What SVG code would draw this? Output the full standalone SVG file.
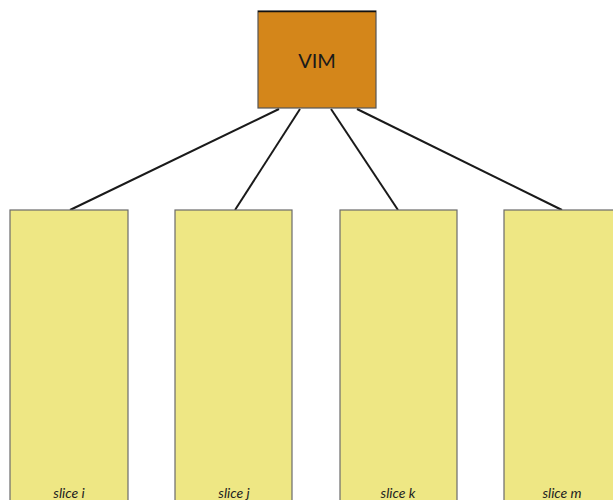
<svg xmlns="http://www.w3.org/2000/svg" width="613" height="500" viewBox="0 0 613 500">
<style>
.slice{fill:#EEE784;stroke:#6b6b6b;stroke-width:1.2}
.lbl{font-family:Lato,"Liberation Sans",sans-serif;font-style:italic;font-size:14px;fill:#222;text-anchor:middle}
.conn{stroke:#1a1a1a;stroke-width:2;fill:none}
</style>
<rect width="613" height="500" fill="#fff"/>
<g id="connectors">
<line class="conn" x1="279" y1="109" x2="70" y2="210"/>
<line class="conn" x1="300" y1="109" x2="235" y2="210"/>
<line class="conn" x1="331" y1="109" x2="398" y2="210"/>
<line class="conn" x1="357" y1="109" x2="562" y2="210"/>
</g>
<g id="vim">
<rect x="258" y="11" width="118" height="97" fill="#D4861A" stroke="#555" stroke-width="1.2"/>
<line x1="258" y1="11.5" x2="376" y2="11.5" stroke="#111" stroke-width="1.5"/>
<text x="317" y="68" font-family="Lato,'Liberation Sans',sans-serif" font-size="20" fill="#1a1a1a" text-anchor="middle">VIM</text>
</g>
<g id="slice-i-1">
<rect class="slice" x="10" y="210" width="118" height="300"/>
<text class="lbl" x="69" y="498">slice i</text>
</g>
<g id="slice-j">
<rect class="slice" x="175" y="210" width="117" height="300"/>
<text class="lbl" x="234" y="498">slice j</text>
</g>
<g id="slice-k">
<rect class="slice" x="340" y="210" width="117" height="300"/>
<text class="lbl" x="398" y="498">slice k</text>
</g>
<g id="slice-m">
<rect class="slice" x="504" y="210" width="117" height="300"/>
<text class="lbl" x="562" y="498">slice m</text>
</g>
</svg>
